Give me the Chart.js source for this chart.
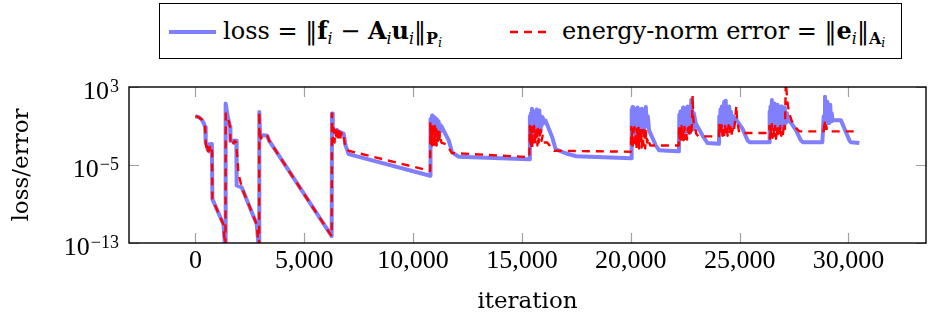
<!DOCTYPE html>
<html lang="en">
<head>
    <meta charset="UTF-8">
    <title>loss / error</title>
    <script src="https://cdn.jsdelivr.net/npm/chart.js"></script>
    <style>
        body { margin: 0; background: #fff; }
        #wrap { position: relative; width: 930px; height: 320px; }
        #legend {
            position: absolute; left: 159px; top: 3px; width: 741px; height: 54px;
            border: 1.3px solid #000; background: #fff;
            font-family: 'DejaVu Serif', serif; font-size: 24px; color: #000;
        }
        #legend .txt { position: absolute; top: 0; line-height: 54px; white-space: nowrap; }
        #legend svg { position: absolute; }
        #legend sub { font-size: 0.66em; vertical-align: -0.3em; line-height: 0; }
        #legend sub sub { font-size: 0.8em; vertical-align: -0.2em; }
    </style>
</head>
<body>
<div id="wrap">
    <canvas id="chart" width="930" height="320"></canvas>
    <div id="legend">
        <svg style="left:9px;top:24px" width="48" height="8"><line x1="0" y1="4" x2="47" y2="4" stroke="rgb(128,128,255)" stroke-width="4"/></svg>
        <span class="txt" style="left:63px">loss = ‖<b>f</b><sub><i>i</i></sub> − <b>A</b><sub><i>i</i></sub><b>u</b><sub><i>i</i></sub>‖<sub><b>P</b><sub><i>i</i></sub></sub></span>
        <svg style="left:350px;top:24px" width="42" height="8"><line x1="0" y1="4" x2="41" y2="4" stroke="red" stroke-width="2.4" stroke-dasharray="8 6"/></svg>
        <span class="txt" style="left:402px">energy-norm error = ‖<b>e</b><sub><i>i</i></sub>‖<sub><b>A</b><sub><i>i</i></sub></sub></span>
    </div>
</div>
<script>
    // loss = ||f_i - A_i u_i||_{P_i}
    const lossIter = [
        0, 150, 290, 400, 445, 475, 520, 560, 600, 650, 700, 750, 760, 780, 1290, 1380,
        1390, 1490, 1595, 1610, 1880, 1895, 2130, 2820, 2925,
        2935, 2975, 3000, 3130, 3300, 3380, 6260,
        6275, 6310, 6400, 6500, 6580, 6700, 6810, 6900, 7040, 10780,
        10790, 10810, 10830, 10850, 10870, 10890, 10920, 10940, 10970, 10990, 11020, 11040, 11070, 11090,
        11120, 11140, 11170, 11200, 11230, 11260, 11300, 11330, 11640, 11790, 12100, 15320, 15350,
        15365, 15390, 15410, 15430, 15460, 15480, 15510, 15530, 15560, 15590, 15620, 15650, 15680, 15710,
        15740, 15770, 15800, 15830, 15860, 15900, 15950, 16000, 16085, 16390, 16545, 17000, 17500, 20000, 20010,
        20030, 20050, 20080, 20100, 20130, 20160, 20190, 20220, 20250, 20280, 20310, 20340, 20370, 20400,
        20430, 20460, 20500, 20540, 20580, 20620, 20690, 20730, 20780, 20840, 21150, 21300, 22140, 22210,
        22230, 22250, 22280, 22300, 22330, 22360, 22400, 22430, 22470, 22500, 22540, 22570, 22610, 22640,
        22680, 22710, 22780, 22800, 22830, 22860, 22900, 22985, 23290, 23520, 24050,
        24065, 24090, 24120, 24150, 24180, 24210, 24250, 24290, 24320, 24360, 24400, 24440, 24480, 24520,
        24560, 24600, 24650, 24700, 24750, 24800, 25130, 25360, 25450, 26350,
        26365, 26390, 26420, 26450, 26480, 26510, 26540, 26570, 26600, 26630, 26660, 26700, 26740, 26780,
        26820, 26860, 26900, 26940, 26980, 27020, 27070, 27120, 27170, 27220, 27280, 27590, 27810, 27900, 28800,
        28860, 28880, 28920, 28940, 28970, 29000, 29030, 29060, 29090, 29120, 29160, 29200, 29230, 29270,
        29650, 30040, 30100, 30500
    ];
    const lossValue = [
        1e0, 8e-1, 4.6e-1, 1.6e-1, 8e-2, 1.6e-3, 1.4e-3, 4e-4, 1.3e-3, 2.5e-4, 1.4e-3, 1.4e-3, 1.4e-4, 3.2e-9, 7.9e-12, 1e-14,
        2e1, 8e-1, 8e-2, 3e-3, 3e-3, 8e-8, 5e-8, 7.9e-12, 1e-14,
        2.8e0, 7e-3, 1.1e-2, 1.1e-2, 1e-2, 3.4e-3, 5e-13,
        1.9e0, 3.6e-2, 2.5e-2, 4e-2, 2.5e-2, 2.2e-2, 1.6e-2, 1e-3, 1.3e-4, 8e-7,
        5e-1, 2e-3, 6e-1, 5e-3, 1.2e0, 1e-2, 4e-1, 3e-3, 8e-1, 1.5e-2, 3e-1, 4e-3, 5e-1, 2e-2,
        2e-1, 8e-3, 3e-1, 3e-2, 1.5e-1, 3e-2, 1e-1, 7e-2, 3.2e-3, 2e-4, 7e-5, 4e-5, 4e-5,
        1e0, 5e-3, 2e0, 1e-2, 5.8e0, 3e-3, 1e0, 2e-2, 3e0, 8e-3, 1.5e0, 1e-2, 5e0, 2e-2,
        2e0, 5e-2, 4e0, 3e-2, 1e0, 1e-1, 8e-1, 2e-1, 3.5e-1, 7e-3, 4.3e-4, 1.6e-4, 8e-5, 5e-5, 5e-5,
        5e0, 3e-2, 9e0, 2e-2, 3e0, 5e-2, 6e0, 1.5e-2, 2e0, 3e-2, 8e0, 4e-2, 3e0, 1.5e-2,
        5e0, 2e-2, 6e0, 3e-2, 4e0, 5e-2, 9e0, 1e-1, 1e0, 3.6e-2, 1e-3, 3.2e-4, 2.5e-4, 2.5e-4,
        1.4e0, 1e-2, 3e0, 2e-2, 1e0, 8e-3, 8e0, 3e-2, 1e0, 1e-2, 2e0, 3e-2, 1e1, 5e-2,
        4e0, 2e-2, 5e1, 1e-1, 3e0, 5e-2, 2e0, 1.8e-1, 1.1e-2, 1.8e-3, 1.5e-3,
        1e0, 2e-2, 5e0, 3e-2, 1e1, 1e-1, 2e0, 3e1, 5e-2, 4e1, 1e-1, 5e0, 3e-2, 1e1,
        8e-2, 3e0, 1e-1, 1e0, 4e-1, 6e-1, 5.4e-2, 3.4e-3, 2.2e-3, 2.2e-3,
        3e0, 4e-2, 1e1, 5e-2, 4.6e1, 1e-1, 5e0, 5e-2, 2e1, 8e-2, 4e0, 4e-2, 1.5e1, 1e-1,
        6e0, 5e-2, 1e1, 1e-1, 3e0, 8e-2, 8e0, 2e-1, 2e0, 3e-1, 4e-1, 3.6e-2, 3.4e-3, 2.2e-3, 2.2e-3,
        1e0, 2e-1, 1e2, 3e-1, 1e1, 2e-1, 3e1, 3e-1, 8e0, 2e-1, 1.5e1, 3e-1, 2e0, 4e-1,
        4e-1, 3.4e-3, 2.2e-3, 1.8e-3
    ];

    // energy-norm error = ||e_i||_{A_i}
    const errIter = [
        0, 150, 290, 400, 445, 475, 490, 520, 550, 580, 610, 640, 670, 700, 740, 765, 780, 1290, 1380,
        1395, 1490, 1595, 1610, 1650, 1700, 1750, 1800, 1870, 1980, 2130, 2820, 2925,
        2935, 2960, 2990, 3020, 3060, 3130, 3300, 3380, 6260,
        6275, 6290, 6320, 6350, 6390, 6430, 6470, 6510, 6560, 6600, 6650, 6700, 6760, 6810, 6890, 7040, 10780,
        10790, 10800, 10820, 10840, 10860, 10880, 10900, 10930, 10950, 10980, 11000, 11030, 11060, 11080,
        11110, 11140, 11170, 11200, 11230, 11300, 11500, 11790, 15340,
        15365, 15380, 15400, 15420, 15450, 15470, 15500, 15530, 15560, 15590, 15620, 15650, 15680, 15710,
        15740, 15770, 15800, 15830, 15860, 15900, 15950, 16000, 16160, 16470, 20000,
        20025, 20040, 20060, 20080, 20110, 20140, 20170, 20200, 20230, 20260, 20290, 20320, 20350, 20380,
        20410, 20440, 20470, 20500, 20540, 20580, 20620, 20660, 20700, 20750, 20800, 20840, 20900, 22200,
        22220, 22240, 22270, 22300, 22330, 22360, 22400, 22430, 22470, 22500, 22540, 22580, 22620, 22660,
        22700, 22760, 22800, 22840, 22870, 22900, 22960, 23000, 23100, 24050,
        24065, 24090, 24120, 24150, 24180, 24210, 24250, 24290, 24330, 24370, 24410, 24450, 24490, 24530,
        24570, 24620, 24670, 24720, 24780, 24850, 24880, 24930, 24980, 26350,
        26365, 26390, 26420, 26450, 26480, 26510, 26550, 26590, 26630, 26670, 26710, 26750, 26790, 26830,
        26870, 26910, 26950, 26990, 27030, 27080, 27120, 27200, 27280, 27400, 27600, 27740, 28820,
        28860, 28900, 28940, 28980, 29020, 30450
    ];
    const errValue = [
        1e0, 8e-1, 4.6e-1, 1.6e-1, 8e-2, 2e-3, 1e-3, 3e-4, 8e-4, 2.5e-4, 1e-3, 3e-4, 7e-4, 3e-4, 5e-4, 2e-4, 3.2e-9, 7.9e-12, 1e-14,
        1.9e0, 8e-1, 8e-2, 3e-3, 1.5e-3, 3e-3, 1.6e-3, 3e-3, 2.2e-3, 1.3e-6, 5e-8, 7.9e-12, 1e-14,
        2.8e0, 3.4e-3, 1.2e-2, 5e-3, 1.2e-2, 1.1e-2, 1e-2, 3.4e-3, 5e-13,
        1.9e0, 5e-2, 3e-3, 6e-2, 2e-3, 4e-2, 4e-3, 8e-2, 3e-3, 3e-2, 5e-3, 2e-2, 8e-3, 1.2e-2, 5e-4, 2.9e-4, 2.5e-6,
        2.5e-1, 2e-3, 1e-1, 8e-4, 5e-2, 1e-3, 2e-1, 1.5e-3, 6e-2, 8e-4, 1e-1, 2e-3, 5e-2, 1e-3,
        3e-2, 3e-3, 4e-2, 2e-3, 2e-2, 2e-3, 1.4e-3, 1.7e-4, 6.5e-5,
        1e-1, 2e-3, 3e-2, 1e-3, 8e-2, 6e-4, 5e-2, 2e-3, 1e-1, 1e-3, 4e-2, 3e-3, 1e-1, 1e-3,
        5e-2, 2e-3, 3e-2, 5e-3, 4e-2, 3e-3, 1e-2, 2e-3, 2e-3, 2.9e-4, 2.3e-4,
        8e-2, 1e-3, 3e-2, 5e-4, 5e-2, 2e-3, 8e-2, 8e-4, 2e-2, 4e-4, 5e-2, 1e-3, 1e-1, 5e-4,
        3e-2, 2e-3, 6e-2, 6e-4, 4e-2, 1e-3, 8e-2, 5e-4, 3e-2, 2e-3, 6e-3, 2e-3, 1e-3, 1e-3,
        8e-2, 5e-3, 5e-2, 3e-3, 1e-1, 4e-3, 4e-2, 3.5e-3, 8e-2, 5e-3, 3e-2, 4e-3, 6e-2, 8e-3,
        2e-1, 1e-2, 5e-2, 1.3e2, 5e-1, 2e-1, 8e-2, 1.7e-2, 8.7e-3, 8.7e-3,
        1.8e-1, 1.2e-2, 8e-2, 1.5e-2, 1.5e-1, 1e-2, 6e-2, 1.2e-2, 1e-1, 1.5e-2, 5e-2, 1e-2, 1.2e-1, 1.5e-2,
        8e-2, 1.2e-2, 5e-2, 2e-2, 2e-1, 1.2e1, 3e-1, 1e-1, 1.9e-2, 1.9e-2,
        1e-1, 5e-3, 6e-2, 8e-3, 1.5e-1, 6e-3, 5e-2, 1e-2, 1e-1, 5e-3, 8e-2, 1e-2, 6e-2, 8e-3,
        1e-1, 1e-2, 5e-2, 1.5e-2, 2e-1, 5e-2, 3e3, 2e1, 1.9e0, 3e-1, 6e-2, 2.8e-2, 2.8e-2,
        3e-2, 4e-1, 2e-2, 1e-1, 2.8e-2, 2.8e-2
    ];

    const xTicks = [0, 5000, 10000, 15000, 20000, 25000, 30000];
    const yTicks = [1e3, 1e-5, 1e-13];
    const yTickExp = ['3', '\u22125', '\u221213'];

    const tickFont = 'Liberation Serif';

    // tick marks inside the box, frame, and 10^k labels
    const framePlugin = {
        id: 'frame',
        afterDatasetsDraw(chart) {
            const ctx = chart.ctx;
            const a = chart.chartArea;
            const xs = chart.scales.x, ys = chart.scales.y;
            ctx.save();
            ctx.strokeStyle = '#a0a0a0';
            ctx.lineWidth = 1.2;
            ctx.beginPath();
            xTicks.forEach(v => {
                const px = Math.round(xs.getPixelForValue(v)) + 0.5;
                ctx.moveTo(px, a.top); ctx.lineTo(px, a.top + 10);
                ctx.moveTo(px, a.bottom); ctx.lineTo(px, a.bottom - 10);
            });
            yTicks.forEach(v => {
                const py = Math.round(ys.getPixelForValue(v)) + 0.5;
                ctx.moveTo(a.left, py); ctx.lineTo(a.left + 10, py);
                ctx.moveTo(a.right, py); ctx.lineTo(a.right - 10, py);
            });
            ctx.stroke();
            ctx.strokeStyle = '#000';
            ctx.lineWidth = 1.4;
            ctx.strokeRect(a.left, a.top, a.right - a.left, a.bottom - a.top);

            // y tick labels: 10 with superscript exponent
            ctx.fillStyle = '#000';
            ctx.textAlign = 'right';
            ctx.textBaseline = 'alphabetic';
            yTicks.forEach((v, i) => {
                const py = ys.getPixelForValue(v);
                const xr = a.left - 10;
                ctx.font = '18px "' + tickFont + '"';
                const ew = ctx.measureText(yTickExp[i]).width;
                ctx.fillText(yTickExp[i], xr, py + 5);
                ctx.font = '26px "' + tickFont + '"';
                ctx.fillText('10', xr - ew - 1, py + 12);
            });
            ctx.restore();
        }
    };

    const ctx = document.getElementById('chart').getContext('2d');
    const chart = new Chart(ctx, {
        type: 'line',
        data: {
            datasets: [
                {
                    label: 'loss',
                    data: lossIter.map((x, i) => ({x: x, y: lossValue[i]})),
                    borderColor: 'rgb(128,128,255)',
                    borderWidth: 4,
                    borderJoinStyle: 'round',
                    pointRadius: 0,
                    tension: 0,
                    fill: false,
                    clip: 0,
                    order: 2
                },
                {
                    label: 'energy-norm error',
                    data: errIter.map((x, i) => ({x: x, y: errValue[i]})),
                    borderColor: 'rgb(255,0,0)',
                    borderWidth: 2.4,
                    borderDash: [8, 6],
                    borderJoinStyle: 'round',
                    pointRadius: 0,
                    tension: 0,
                    fill: false,
                    clip: 0,
                    order: 1
                }
            ]
        },
        options: {
            responsive: false,
            animation: false,
            devicePixelRatio: 1,
            layout: { padding: { top: 87, right: 4, left: 0, bottom: 0 } },
            plugins: { legend: { display: false }, tooltip: { enabled: false } },
            scales: {
                x: {
                    type: 'linear',
                    min: -3050,
                    max: 33560,
                    grid: { display: false, drawTicks: false },
                    border: { display: false },
                    afterBuildTicks: s => { s.ticks = xTicks.map(v => ({value: v})); },
                    afterFit: s => { s.height = 77; },
                    ticks: {
                        padding: 3,
                        maxRotation: 0,
                        color: '#000',
                        font: { family: tickFont, size: 26 },
                        callback: v => v.toLocaleString('en-US')
                    },
                    title: {
                        display: true,
                        text: 'iteration',
                        color: '#000',
                        font: { family: 'DejaVu Serif', size: 23 },
                        padding: { top: 0, bottom: 4 }
                    }
                },
                y: {
                    type: 'logarithmic',
                    min: 1e-13,
                    max: 1e3,
                    grid: { display: false, drawTicks: false },
                    border: { display: false },
                    afterBuildTicks: s => { s.ticks = yTicks.map(v => ({value: v})); },
                    afterFit: s => { s.width = 129; },
                    ticks: { display: false },
                    title: {
                        display: true,
                        text: 'loss/error',
                        color: '#000',
                        font: { family: 'DejaVu Serif', size: 23 },
                        padding: { top: 8, bottom: 0 }
                    }
                }
            }
        },
        plugins: [framePlugin]
    });
</script>
</body>
</html>
